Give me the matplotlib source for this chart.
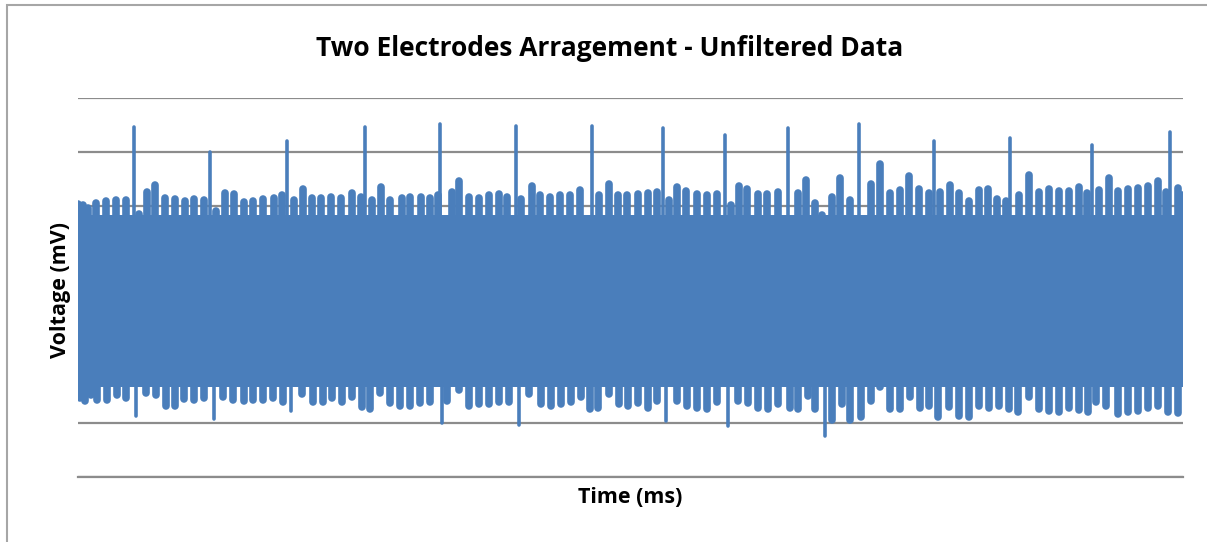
import matplotlib.pyplot as plt
from matplotlib.patches import Rectangle

# upper bursts of the recording: time (ms) and peak voltage (mV)
top_t = [0, 5, 10, 18, 28, 38, 48, 61, 69, 77, 87, 97, 107, 116, 126, 138, 147, 156, 166, 175,
         185, 196, 204, 216, 225, 234, 243, 253, 263, 274, 283, 294, 303, 312, 324, 332, 343, 352,
         360, 368, 374, 381, 391, 401, 411, 421, 429, 443, 454, 462, 472, 482, 492, 502, 521, 531,
         540, 549, 560, 570, 579, 591, 599, 608, 619, 629, 639, 653, 661, 669, 680, 689, 700, 720,
         728, 737, 744, 754, 762, 772, 793, 802, 812, 822, 831, 841, 851, 862, 872, 881, 891, 901,
         910, 919, 928, 941, 951, 961, 971, 981, 991, 1001, 1009, 1021, 1031, 1040, 1050, 1060,
         1070, 1080, 1088, 1100, 1104]
top_v = [1.02, 1.01, 0.98, 1.03, 1.05, 1.06, 1.06, 0.93, 1.13, 1.20, 1.08, 1.07, 1.05, 1.07, 1.06,
         0.96, 1.12, 1.11, 1.04, 1.05, 1.07, 1.08, 1.10, 1.06, 1.16, 1.08, 1.08, 1.09, 1.08, 1.12,
         1.09, 1.06, 1.18, 1.06, 1.08, 1.09, 1.09, 1.08, 1.10, 0.92, 1.13, 1.23, 1.09, 1.08, 1.10,
         1.11, 1.09, 1.07, 1.19, 1.10, 1.09, 1.10, 1.10, 1.15, 1.10, 1.21, 1.10, 1.10, 1.11, 1.12,
         1.13, 1.06, 1.18, 1.14, 1.11, 1.10, 1.11, 1.01, 1.19, 1.16, 1.11, 1.11, 1.13, 1.12, 1.24,
         1.03, 0.82, 1.09, 1.26, 1.06, 1.21, 1.39, 1.12, 1.15, 1.28, 1.16, 1.12, 1.13, 1.20, 1.12,
         1.05, 1.15, 1.16, 1.07, 1.05, 1.10, 1.29, 1.13, 1.16, 1.14, 1.14, 1.18, 1.12, 1.15, 1.26,
         1.14, 1.16, 1.17, 1.19, 1.23, 1.13, 1.17, 1.10]

# lower bursts: time (ms) and trough voltage (mV)
bot_t = [2, 7, 13, 19, 29, 39, 48, 68, 78, 88, 97, 106, 116, 126, 145, 155, 166, 175, 185, 195,
         205, 224, 235, 245, 254, 264, 274, 284, 292, 302, 312, 322, 332, 342, 352, 369, 381, 391,
         401, 411, 421, 431, 451, 463, 473, 483, 493, 503, 512, 520, 531, 541, 550, 560, 570, 579,
         599, 609, 619, 629, 639, 660, 670, 680, 690, 700, 712, 720, 730, 737, 754, 764, 772, 783,
         793, 802, 812, 822, 832, 842, 851, 860, 871, 881, 891, 901, 911, 921, 931, 940, 951, 961,
         971, 981, 991, 1001, 1010, 1018, 1028, 1040, 1050, 1060, 1070, 1080, 1090, 1100]
bot_v = [-0.77, -0.80, -0.74, -0.79, -0.79, -0.74, -0.77, -0.72, -0.74, -0.84, -0.84, -0.78, -0.79,
         -0.77, -0.76, -0.79, -0.80, -0.79, -0.79, -0.77, -0.81, -0.73, -0.81, -0.81, -0.77, -0.81,
         -0.76, -0.85, -0.87, -0.72, -0.82, -0.84, -0.84, -0.82, -0.81, -0.80, -0.70, -0.84, -0.83,
         -0.83, -0.81, -0.81, -0.73, -0.83, -0.84, -0.83, -0.81, -0.76, -0.87, -0.86, -0.73, -0.83,
         -0.84, -0.82, -0.86, -0.80, -0.80, -0.84, -0.86, -0.87, -0.81, -0.80, -0.82, -0.86, -0.87,
         -0.83, -0.86, -0.87, -0.75, -0.87, -0.97, -0.83, -0.97, -0.95, -0.80, -0.66, -0.87, -0.87,
         -0.76, -0.86, -0.84, -0.95, -0.85, -0.94, -0.95, -0.84, -0.86, -0.84, -0.87, -0.90, -0.76,
         -0.87, -0.89, -0.90, -0.86, -0.88, -0.90, -0.81, -0.84, -0.92, -0.90, -0.89, -0.86, -0.84,
         -0.90, -0.91]

# stimulus spikes
spike_t = [56, 132, 209, 287, 362, 438, 514, 585, 647, 710, 781, 856, 932, 1014, 1092]
spike_v = [1.73, 1.50, 1.60, 1.73, 1.76, 1.74, 1.74, 1.72, 1.66, 1.72, 1.76, 1.60, 1.63, 1.57, 1.69]
dip_t = [58, 136, 213, 364, 441, 588, 650, 747]
dip_v = [-0.94, -0.96, -0.89, -1.00, -1.02, -0.98, -1.03, -1.12]

# dense oscillation band that every burst sits on
band_t = [0, 1105]
band_hi = [0.92, 0.92]
band_lo = [-0.67, -0.67]

blue = '#4a7ebb'
font = ['Open Sans', 'DejaVu Sans']

fig = plt.figure(figsize=(12.07, 5.42), dpi=100)
ax = fig.add_axes([78 / 1207, 1 - 477 / 542, 1105 / 1207, 379 / 542])

ax.fill_between(band_t, band_lo, band_hi, color=blue, lw=0)
ax.vlines(top_t, band_hi[0], top_v, color=blue, lw=5.5, capstyle='round')
ax.vlines(bot_t, bot_v, band_lo[0], color=blue, lw=5.5, capstyle='round')
ax.vlines(spike_t, band_hi[0], spike_v, color=blue, lw=2.6, capstyle='round')
ax.vlines(dip_t, dip_v, band_lo[0], color=blue, lw=2.6, capstyle='round')

ax.set_xlim(0, 1105)
ax.set_ylim(-1.5, 2.0)
ax.set_yticks([-1.5, -1.0, -0.5, 0.0, 0.5, 1.0, 1.5, 2.0])
ax.set_xticks([])
ax.tick_params(axis='y', length=0, labelleft=False)
ax.grid(axis='y', color='#8c8c8c', lw=1.6)
ax.set_axisbelow(True)
for side in ['left', 'right', 'top']:
    ax.spines[side].set_visible(False)
ax.spines['bottom'].set_color('#8c8c8c')
ax.spines['bottom'].set_linewidth(1.6)

fig.text(0.505, 0.911, 'Two Electrodes Arragement - Unfiltered Data', ha='center', va='center',
         fontsize=19, fontweight='bold', family=font)
fig.text(0.05, 0.465, 'Voltage (mV)', rotation=90, ha='center', va='center',
         fontsize=15.5, fontweight='bold', family=font)
fig.text(0.522, 0.083, 'Time (ms)', ha='center', va='center',
         fontsize=15.5, fontweight='bold', family=font)

# chart area frame
fig.patches.append(Rectangle((7 / 1207, -0.1), 1.2, 1.1 - 5 / 542, transform=fig.transFigure,
                             fill=False, edgecolor='#a6a6a6', lw=1.5))

fig.savefig('out.png', dpi=100)
